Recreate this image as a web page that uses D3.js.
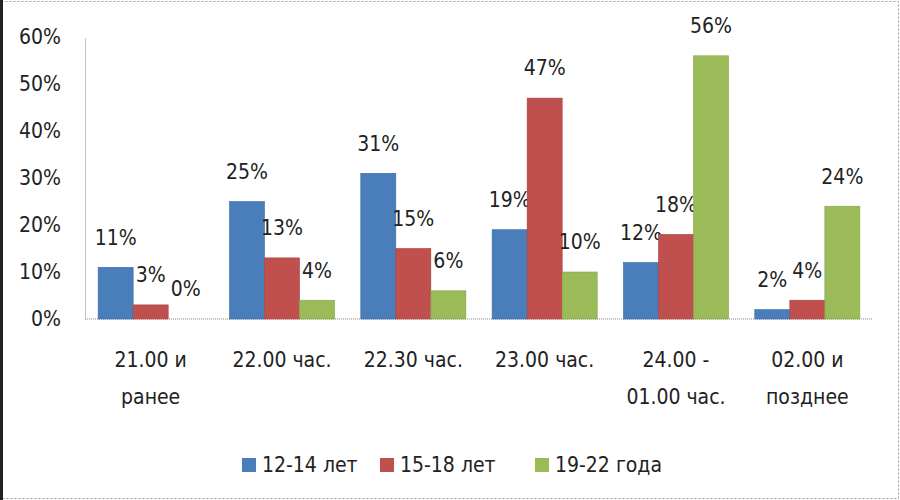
<!DOCTYPE html>
<html>
<head>
<meta charset="utf-8">
<script src="https://cdn.jsdelivr.net/npm/d3@7"></script>
<style>
  body { margin: 0; background: #fff; }
  svg text { font-family: "Liberation Sans Narrow", "DejaVu Sans Condensed", sans-serif; fill: #222; }
</style>
</head>
<body>
<script>
// categories (each label split into its printed lines)
const categories = [
    ["21.00 и", "ранее"],
    ["22.00 час."],
    ["22.30 час."],
    ["23.00 час."],
    ["24.00 -", "01.00 час."],
    ["02.00 и", "позднее"]
];
const seriesNames = ["12-14 лет", "15-18 лет", "19-22 года"];
const age12to14 = [11, 25, 31, 19, 12, 2];
const age15to18 = [3, 13, 15, 47, 18, 4];
const age19to22 = [0, 4, 6, 10, 56, 24];
const yTicks = [0, 10, 20, 30, 40, 50, 60];

const colors = ["#4a7ebb", "#c0504d", "#9bbb59"];
const strokes = ["#3a6aa5", "#a8403d", "#84a34a"];

const width = 900, height = 500;
const marginLeft = 85, marginRight = 27, marginTop = 37, marginBottom = 181;

const svg = d3.select("body").append("svg")
    .attr("width", width)
    .attr("height", height);

// outer dashed frame like the pasted picture
svg.append("rect")
    .attr("x", 1.5).attr("y", 1.5)
    .attr("width", width - 3).attr("height", height - 3)
    .attr("fill", "none")
    .attr("stroke", "#999")
    .attr("stroke-dasharray", "2,2");
svg.append("rect")
    .attr("x", 0).attr("y", 0)
    .attr("width", 3).attr("height", height)
    .attr("fill", "#222");

const keys = categories.map((c, i) => i);
const series = [age12to14, age15to18, age19to22];

const x = d3.scaleBand()
    .domain(keys)
    .range([marginLeft, width - marginRight])
    .paddingInner(0.2)
    .paddingOuter(0.1);

const xSub = d3.scaleBand()
    .domain([0, 1, 2])
    .range([0, x.bandwidth()]);

const y = d3.scaleLinear()
    .domain([0, 60])
    .range([height - marginBottom, marginTop]);

// y axis
svg.append("g")
    .attr("transform", `translate(${marginLeft},0)`)
    .call(d3.axisLeft(y).tickValues(yTicks).tickSize(0).tickPadding(24).tickFormat(d => d + "%"))
    .call(g => g.select(".domain").attr("stroke", "#888").attr("stroke-dasharray", "1,1"))
    .call(g => g.selectAll("text").style("font-size", "21px"));

// baseline
svg.append("line")
    .attr("x1", marginLeft).attr("x2", width - marginRight)
    .attr("y1", y(0)).attr("y2", y(0))
    .attr("stroke", "#888")
    .attr("stroke-dasharray", "1,1");

// bars
series.forEach((vals, s) => {
    svg.append("g").selectAll("rect")
        .data(vals)
        .join("rect")
        .attr("x", (d, i) => x(i) + xSub(s))
        .attr("y", d => y(d))
        .attr("width", xSub.bandwidth())
        .attr("height", d => y(0) - y(d))
        .attr("fill", colors[s])
        .attr("stroke", d => d > 0 ? strokes[s] : "none")
        .attr("stroke-width", 0.6);

    svg.append("g").selectAll("text")
        .data(vals)
        .join("text")
        .attr("x", (d, i) => x(i) + xSub(s) + xSub.bandwidth() / 2)
        .attr("y", d => y(d) - 30)
        .attr("dy", "0.35em")
        .attr("text-anchor", "middle")
        .style("font-size", "21px")
        .text(d => d + "%");
});

// category labels
const catG = svg.append("g").selectAll("text")
    .data(categories)
    .join("text")
    .attr("text-anchor", "middle")
    .style("font-size", "21px");
catG.selectAll("tspan")
    .data((d, i) => d.map(line => ({ line, i })))
    .join("tspan")
    .attr("x", d => x(d.i) + x.bandwidth() / 2)
    .attr("y", (d, j) => 367 + j * 37)
    .text(d => d.line);

// legend
const legendX = [242, 380, 535];
const legend = svg.append("g").selectAll("g")
    .data(seriesNames)
    .join("g")
    .attr("transform", (d, i) => `translate(${legendX[i]},458)`);
legend.append("rect")
    .attr("width", 14).attr("height", 14)
    .attr("fill", (d, i) => colors[i]);
legend.append("text")
    .attr("x", 20).attr("y", 7)
    .attr("dy", "0.35em")
    .style("font-size", "21px")
    .text(d => d);
</script>
</body>
</html>
